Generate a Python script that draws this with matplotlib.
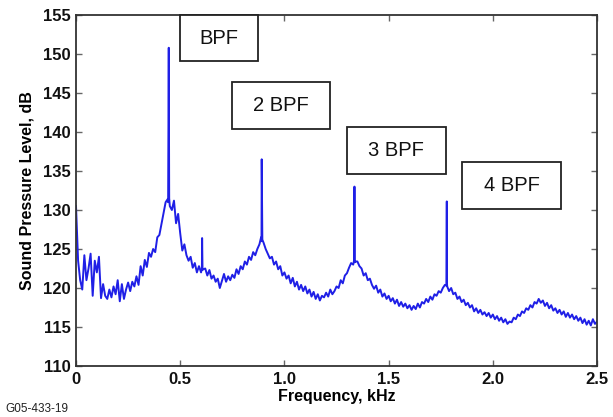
import matplotlib
matplotlib.use("Agg")
import matplotlib.pyplot as plt
from matplotlib.patches import Rectangle
import numpy as np

plt.rcParams["font.family"] = ["Liberation Sans", "DejaVu Sans"]

# frequency grid, kHz (0.01 kHz steps)
grid_khz = np.round(np.arange(0, 251) * 0.01, 2)

# broadband sound pressure level, dB (one row per 0.1 kHz)
grid_db = [
    130.5, 123.5, 121.0, 119.8, 124.2, 121.0, 122.5, 124.4, 119.0, 123.5,
    122.0, 124.0, 118.7, 120.5, 119.0, 118.6, 119.8, 118.8, 120.2, 119.2,
    121.0, 118.3, 120.5, 118.6, 119.8, 120.7, 119.6, 120.8, 120.2, 121.5,
    120.4, 122.8, 121.6, 123.6, 122.7, 124.5, 124.0, 125.0, 124.6, 126.5,
    126.8, 128.2, 129.6, 131.0, 131.4, 130.5, 130.0, 131.2, 128.3, 129.5,
    127.0, 124.8, 125.6, 124.2, 123.5, 124.0, 122.6, 123.2, 122.0, 122.8,
    122.0, 122.4, 122.5, 121.6, 122.3, 121.2, 121.6, 120.8, 121.2, 120.0,
    120.9, 121.8, 120.8, 121.5, 121.0, 121.7, 121.3, 122.4, 121.8, 122.8,
    122.4, 123.4, 123.0, 124.0, 123.6, 124.6, 124.2, 125.0, 125.6, 126.0,
    125.8, 125.0, 124.4, 123.8, 124.0, 123.0, 123.4, 122.4, 122.8, 121.6,
    122.0, 121.2, 121.6, 120.6, 121.3, 120.2, 120.8, 119.8, 120.4, 119.6,
    120.2, 119.3, 119.8, 118.9, 119.5, 118.6, 119.2, 118.4, 119.0, 118.8,
    119.4, 118.9, 119.8, 119.2, 119.6, 120.2, 120.0, 121.0, 120.6, 121.6,
    121.9, 122.6, 123.2, 123.0, 123.4, 123.4, 122.8, 122.5, 121.6, 121.9,
    121.0, 121.2, 120.4, 119.9, 120.3, 119.4, 119.8, 118.9, 119.3, 118.6,
    119.0, 118.3, 118.7, 118.0, 118.5, 117.7, 118.2, 117.6, 118.0, 117.4,
    117.8, 117.2, 117.7, 117.3, 118.0, 117.5, 118.2, 118.0, 118.6, 118.2,
    118.9, 118.5, 119.2, 119.0, 119.6, 119.4, 120.0, 120.4, 120.5, 119.6,
    120.0, 119.2, 119.4, 118.6, 118.9, 118.2, 118.5, 117.8, 118.1, 117.5,
    117.8, 117.0, 117.4, 116.8, 117.2, 116.6, 116.9, 116.4, 116.8, 116.2,
    116.6, 116.0, 116.4, 115.8, 116.2, 115.6, 116.0, 115.4, 115.7, 115.6,
    116.2, 116.0, 116.6, 116.4, 117.0, 116.8, 117.4, 117.2, 117.8, 117.5,
    118.2, 118.0, 118.6, 118.1, 118.4, 117.7, 118.1, 117.4, 117.8, 117.1,
    117.4, 116.8, 117.2, 116.6, 117.0, 116.3, 116.8, 116.2, 116.6, 116.0,
    116.4, 115.8, 116.2, 115.5, 116.0, 115.3, 115.8, 115.2, 116.0, 115.4,
    115.7,
]

# narrow tonal spikes (blade passing frequency and harmonics), kHz / dB
tone_khz = [0.442, 0.444, 0.445, 0.447,
            0.604, 0.605, 0.607,
            0.888, 0.891, 0.894,
            1.334, 1.336, 1.338,
            1.777, 1.779, 1.781]
tone_db = [131.0, 145.0, 150.8, 131.5,
           122.5, 126.4, 122.3,
           126.5, 136.5, 126.2,
           123.5, 133.0, 123.3,
           120.3, 131.1, 120.2]

# harmonic labels: text, left, right (kHz), bottom, top (dB)
labels = ["BPF", "2 BPF", "3 BPF", "4 BPF"]
box_x0 = [0.499, 0.749, 1.299, 1.854]
box_x1 = [0.873, 1.219, 1.774, 2.327]
box_y0 = [149.1, 140.4, 134.6, 130.1]
box_y1 = [155.0, 146.4, 140.7, 136.1]

freq = np.concatenate([grid_khz, tone_khz])
spl = np.concatenate([grid_db, tone_db])
order = np.argsort(freq, kind="stable")
freq, spl = freq[order], spl[order]

fig = plt.figure(figsize=(6.13, 4.17), dpi=100)
ax = fig.add_axes([0.124, 0.1223, 0.850, 0.8417])

ax.plot(freq, spl, color="#1f1fe6", linewidth=1.4)

for txt, x0, x1, y0, y1 in zip(labels, box_x0, box_x1, box_y0, box_y1):
    ax.add_patch(Rectangle((x0, y0), x1 - x0, y1 - y0, facecolor="white",
                           edgecolor="#222222", linewidth=1.3, zorder=3,
                           clip_on=False))
    ax.text((x0 + x1) / 2, (y0 + y1) / 2, txt, ha="center", va="center",
            fontsize=14.5, color="#111111", zorder=4)

ax.set_xlim(0, 2.5)
ax.set_ylim(110, 155)
ax.set_xticks([0, 0.5, 1.0, 1.5, 2.0, 2.5])
ax.set_xticklabels(["0", "0.5", "1.0", "1.5", "2.0", "2.5"])
ax.set_yticks(np.arange(110, 156, 5))
ax.tick_params(direction="in", length=4, width=1, top=True, right=True,
               labelsize=12, colors="#111111", pad=4)
ax.tick_params(axis="both", color="#666666")
for lab in ax.get_xticklabels() + ax.get_yticklabels():
    lab.set_fontweight("bold")
for sp in ax.spines.values():
    sp.set_color("#333333")
    sp.set_linewidth(1.3)

ax.set_xlabel("Frequency, kHz", fontsize=11.5, fontweight="bold", labelpad=2)
ax.set_ylabel("Sound Pressure Level, dB", fontsize=11.5, fontweight="bold",
              labelpad=6)

fig.text(0.008, 0.012, "G05-433-19", fontsize=8.5, color="#222222")

fig.savefig("out.png", dpi=100)
